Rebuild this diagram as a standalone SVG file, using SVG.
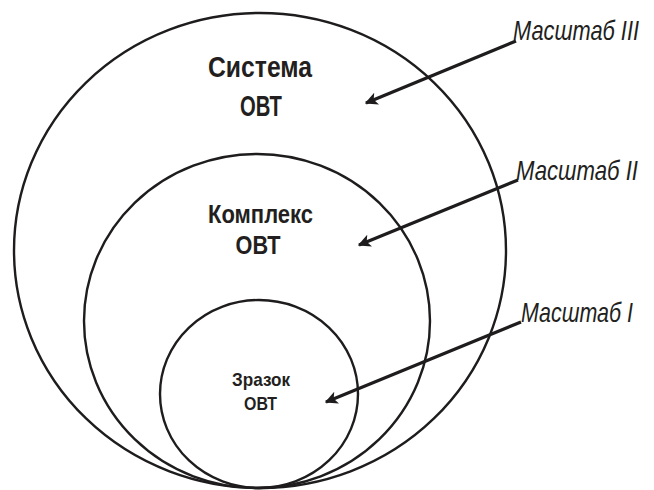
<svg xmlns="http://www.w3.org/2000/svg" width="654" height="490" viewBox="0 0 654 490">
<style>
.ring{fill:none;stroke:#1e1c1c;stroke-width:2.4}
.t{font-family:"Liberation Sans",Arial,sans-serif;font-weight:bold;fill:#231f20;text-anchor:middle}
.lbl{font-family:"Liberation Sans",Arial,sans-serif;font-style:italic;fill:#231f20;font-size:23px}
.arr{stroke:#1e1c1c;stroke-width:3.2;fill:none;marker-end:url(#ah)}
</style>
<defs>
<marker id="ah" viewBox="0 0 10 10" refX="9" refY="5" markerWidth="4" markerHeight="4" markerUnits="strokeWidth" orient="auto">
<path d="M0,0 L10,5 L0,10 L2.5,5 z" fill="#1e1c1c"/>
</marker>
</defs>
<rect width="654" height="490" fill="#fff"/>
<g id="system">
<ellipse class="ring" cx="260" cy="250.5" rx="246" ry="237.5"/>
<text class="t" x="260" y="77" font-size="29" textLength="104" lengthAdjust="spacingAndGlyphs">Система</text>
<text class="t" x="261" y="116" font-size="29" textLength="42" lengthAdjust="spacingAndGlyphs">ОВТ</text>
</g>
<g id="complex">
<ellipse class="ring" cx="257" cy="321" rx="173" ry="167"/>
<text class="t" x="260.5" y="223" font-size="26" textLength="105" lengthAdjust="spacingAndGlyphs">Комплекс</text>
<text class="t" x="258" y="254" font-size="26" textLength="45" lengthAdjust="spacingAndGlyphs">ОВТ</text>
</g>
<g id="sample">
<ellipse class="ring" cx="259" cy="394" rx="99" ry="94"/>
<text class="t" x="261" y="386" font-size="19" textLength="58" lengthAdjust="spacingAndGlyphs">Зразок</text>
<text class="t" x="260.5" y="410" font-size="19" textLength="33" lengthAdjust="spacingAndGlyphs">ОВТ</text>
</g>
<g id="labels">
<text class="lbl" transform="translate(513,40) scale(1,1.2)" textLength="126" lengthAdjust="spacingAndGlyphs">Масштаб III</text>
<text class="lbl" transform="translate(516,180) scale(1,1.2)" textLength="122" lengthAdjust="spacingAndGlyphs">Масштаб II</text>
<text class="lbl" transform="translate(521,322) scale(1,1.2)" textLength="112" lengthAdjust="spacingAndGlyphs">Масштаб I</text>
</g>
<g id="connectors">
<line class="arr" x1="516" y1="41" x2="366" y2="103"/>
<line class="arr" x1="518" y1="180" x2="359" y2="245"/>
<line class="arr" x1="521" y1="322" x2="326" y2="402"/>
</g>
</svg>
